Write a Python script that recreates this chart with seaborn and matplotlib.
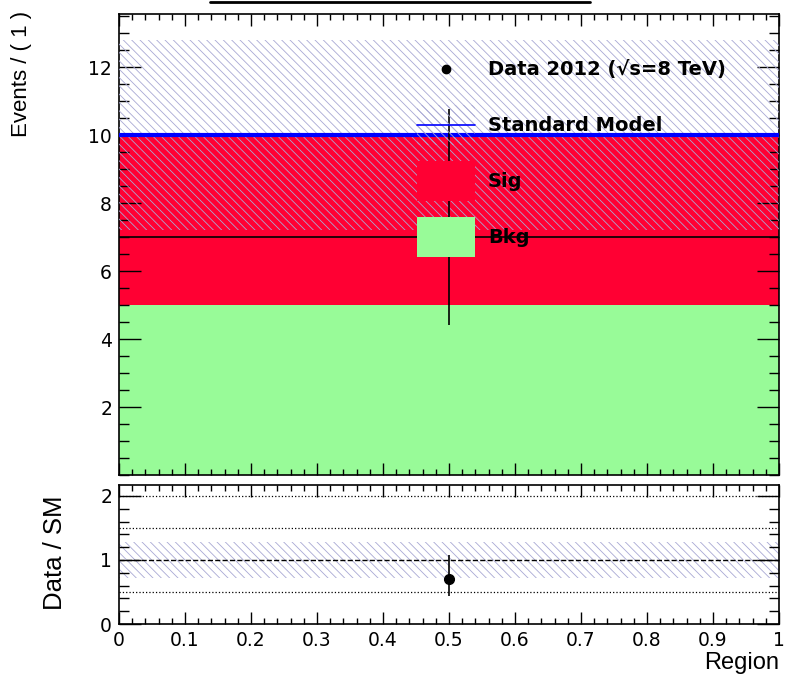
import matplotlib
matplotlib.use('Agg')
import matplotlib.pyplot as plt
from matplotlib.lines import Line2D
from matplotlib.patches import Patch
from matplotlib.legend_handler import HandlerLine2D
from matplotlib.ticker import MultipleLocator
import numpy as np
import pandas as pd
import seaborn as sns

# Data (single region bin 0..1)
region_edges = [0.0, 1.0]
region_centre = [0.5]
region_halfwidth = [0.5]
processes = ['Sig', 'Bkg']
bkg_events = [5.0]
sig_events = [5.0]
sm_unc = [2.8]
data_events = [7.0]
data_err_lo = [2.58]
data_err_hi = [3.77]

sns.set_style('ticks')
plt.rcParams['font.family'] = ['DejaVu Sans']
plt.rcParams['hatch.linewidth'] = 0.6
for k in ['text.color', 'axes.labelcolor', 'xtick.color', 'ytick.color']:
    plt.rcParams[k] = 'black'

red = '#ff0033'
green = '#98fb98'
hatch_col = '#a8a8d4'
title_font = ['Liberation Sans', 'DejaVu Sans']


class CentredLine(HandlerLine2D):
    # put line/marker at the same height as patch handles
    def create_artists(self, legend, orig_handle, xdescent, ydescent,
                       width, height, fontsize, trans):
        arts = super().create_artists(legend, orig_handle, xdescent, ydescent,
                                      width, height, fontsize, trans)
        for a in arts:
            a.set_ydata(np.asarray(a.get_ydata()) - ydescent / 2)
        return arts


df = pd.DataFrame({
    'region': region_centre * 2,
    'process': processes,
    'events': sig_events + bkg_events,
})

sm_total = np.array(bkg_events) + np.array(sig_events)
data = np.array(data_events)

fig = plt.figure(figsize=(7.88, 6.78), dpi=100)
ax = fig.add_axes([0.151, 0.2994, 0.8376, 0.680])
rax = fig.add_axes([0.151, 0.0796, 0.8376, 0.2051])

# stacked histogram
sns.histplot(data=df, x='region', weights='events', hue='process',
             hue_order=processes, multiple='stack', bins=region_edges,
             palette={'Sig': red, 'Bkg': green}, alpha=1, linewidth=0,
             legend=False, ax=ax)

# SM uncertainty band
ax.fill_between(region_edges, sm_total[0] - sm_unc[0], sm_total[0] + sm_unc[0],
                facecolor='none', edgecolor=hatch_col, hatch='\\\\\\\\',
                linewidth=0, zorder=3)
ax.stairs(sm_total, region_edges, color='blue', linewidth=3, baseline=None, zorder=4)

# data (legend is drawn above it)
ax.errorbar(region_centre, data, xerr=region_halfwidth,
            yerr=[data_err_lo, data_err_hi], fmt='o', color='black',
            markersize=6, elinewidth=1.2, capsize=0, zorder=4.5)

ax.set_xlim(0, 1)
ax.set_ylim(0, 13.56)
ax.set_xlabel('')
ax.set_ylabel('')
ax.set_xticklabels([])
ax.yaxis.set_major_locator(MultipleLocator(2))
ax.yaxis.set_minor_locator(MultipleLocator(0.5))
ax.set_yticks([2, 4, 6, 8, 10, 12])

# ratio panel
ratio = data / sm_total
ratio_lo = np.array(data_err_lo) / sm_total
ratio_hi = np.array(data_err_hi) / sm_total
band = np.array(sm_unc) / sm_total
rax.fill_between(region_edges, 1 - band[0], 1 + band[0], facecolor='none',
                 edgecolor=hatch_col, hatch='\\\\\\\\', linewidth=0, zorder=1)
for lvl in [0.5, 1.5, 2.0]:
    rax.axhline(lvl, color='black', linestyle=':', linewidth=0.9, zorder=2)
rax.axhline(1.0, color='black', linestyle='--', linewidth=1.0, zorder=2)
rax.errorbar(region_centre, ratio, yerr=[ratio_lo, ratio_hi], fmt='o',
             color='black', markersize=7, elinewidth=1.2, capsize=0, zorder=5)
rax.set_xlim(0, 1)
rax.set_ylim(0, 2.17)
rax.yaxis.set_major_locator(MultipleLocator(1))
rax.yaxis.set_minor_locator(MultipleLocator(0.2))

for a in (ax, rax):
    a.xaxis.set_major_locator(MultipleLocator(0.1))
    a.xaxis.set_minor_locator(MultipleLocator(0.02))
    a.tick_params(which='both', direction='in', top=True, right=True,
                  labelsize=13.5, colors='black', width=1)
    a.tick_params(axis='x', which='major', length=8.5, pad=5)
    a.tick_params(axis='x', which='minor', length=4.5)
    a.tick_params(axis='y', which='major', length=15.5, pad=5)
    a.tick_params(axis='y', which='minor', length=7)
    for s in a.spines.values():
        s.set_linewidth(1.2)
        s.set_color('black')
    a.set_axisbelow(False)
rax.set_xticks(np.round(np.arange(0, 1.01, 0.1), 1))
rax.set_xticklabels(['0', '0.1', '0.2', '0.3', '0.4', '0.5', '0.6', '0.7', '0.8', '0.9', '1'])
rax.set_yticks([0, 1, 2])

# legend
handles = [
    Line2D([], [], marker='o', color='black', linestyle='none', markersize=6),
    (Patch(facecolor='none', edgecolor=hatch_col, hatch='\\\\\\\\', linewidth=0),
     Line2D([], [], color='blue', linewidth=1.2)),
    Patch(facecolor=red, linewidth=0),
    Patch(facecolor=green, linewidth=0),
]
labels = ['Data 2012 (\u221as=8 TeV)', 'Standard Model', 'Sig', 'Bkg']
leg = ax.legend(handles, labels, loc='upper left', bbox_to_anchor=(0.4515, 0.924),
                frameon=False, borderpad=0, borderaxespad=0, handlelength=2.98,
                handleheight=2.79, labelspacing=0.82, handletextpad=0.67,
                prop={'size': 14, 'weight': 'bold'},
                handler_map={Line2D: CentredLine()})
leg.set_zorder(6)

# axis titles
fig.text(22 / 788, 1 - 11 / 678, 'Events / ( 1 )', rotation=90, ha='center',
         va='top', fontsize=16, family=title_font)
fig.text(55 / 788, 1 - 553 / 678, 'Data / SM', rotation=90, ha='center',
         va='center', fontsize=18.5, family=title_font)
fig.text(779 / 788, 1 - 663 / 678, 'Region', ha='right', va='center',
         fontsize=17, family=title_font)

fig.add_artist(Line2D([210 / 788, 590 / 788], [1 - 1.5 / 678, 1 - 1.5 / 678],
                      color='black', linewidth=2))

fig.savefig('out.png', dpi=100)
